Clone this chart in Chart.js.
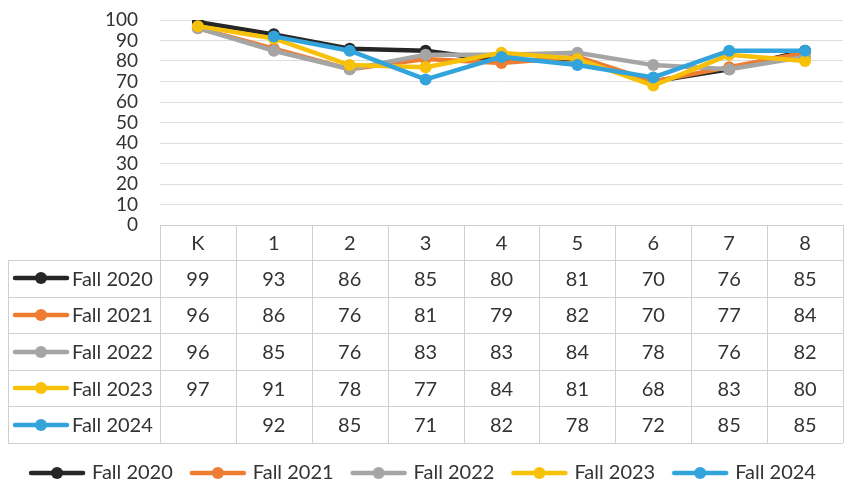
<!DOCTYPE html>
<html lang="en">
<head>
  <meta charset="UTF-8">
  <title>Fall 2020 - Fall 2024 by grade</title>
  <script src="https://cdn.jsdelivr.net/npm/chart.js"></script>
  <style>
    html, body { margin: 0; padding: 0; background: #fff; }
    .wrap { position: relative; width: 849px; height: 487px; }
  </style>
</head>
<body>
  <div class="wrap"><canvas id="gradeChart"></canvas></div>
  <script>
    const grades = ['K', '1', '2', '3', '4', '5', '6', '7', '8'];
    const seriesNames = ['Fall 2020', 'Fall 2021', 'Fall 2022', 'Fall 2023', 'Fall 2024'];
    const fall2020 = [99, 93, 86, 85, 80, 81, 70, 76, 85];
    const fall2021 = [96, 86, 76, 81, 79, 82, 70, 77, 84];
    const fall2022 = [96, 85, 76, 83, 83, 84, 78, 76, 82];
    const fall2023 = [97, 91, 78, 77, 84, 81, 68, 83, 80];
    const fall2024 = [null, 92, 85, 71, 82, 78, 72, 85, 85];
    const yTicks = [0, 10, 20, 30, 40, 50, 60, 70, 80, 90, 100];

    const seriesValues = [fall2020, fall2021, fall2022, fall2023, fall2024];
    const colors = ['#262626', '#ed7d31', '#a5a5a5', '#f7c10a', '#33a3dc'];
    const FONT = 'Lato, "Open Sans", sans-serif';
    const TEXT = '#333333';
    const LINE = '#cfcfcf';

    // little line+dot keys, used in the legend and the table
    function makeKey(color) {
      const c = document.createElement('canvas');
      c.width = 58; c.height = 14;
      const g = c.getContext('2d');
      g.strokeStyle = color; g.lineWidth = 4.5; g.lineCap = 'round';
      g.beginPath(); g.moveTo(3, 7); g.lineTo(55, 7); g.stroke();
      g.fillStyle = color;
      g.beginPath(); g.arc(29, 7, 6, 0, Math.PI * 2); g.fill();
      return c;
    }
    const keys = colors.map(makeKey);

    const dataTable = {
      id: 'dataTable',
      afterDraw(chart) {
        const { ctx, chartArea } = chart;
        const x = chart.scales.x;
        const cw = (chartArea.right - chartArea.left) / grades.length;
        const top = chartArea.bottom;
        const headH = 35;
        const rowH = 36.6;
        const bottom = top + headH + rowH * seriesNames.length;
        const leftCol = 8;
        ctx.save();
        ctx.strokeStyle = LINE;
        ctx.lineWidth = 1;
        ctx.beginPath();
        // horizontal lines
        ctx.moveTo(chartArea.left, top + 0.5); ctx.lineTo(chartArea.right, top + 0.5);
        for (let r = 0; r <= seriesNames.length; r++) {
          const y = Math.round(top + headH + rowH * r) + 0.5;
          ctx.moveTo(leftCol, y); ctx.lineTo(chartArea.right, y);
        }
        // vertical lines
        for (let i = 0; i <= grades.length; i++) {
          const vx = Math.round(chartArea.left + cw * i) + 0.5;
          ctx.moveTo(vx, top); ctx.lineTo(vx, bottom);
        }
        ctx.moveTo(leftCol + 0.5, top + headH); ctx.lineTo(leftCol + 0.5, bottom);
        ctx.stroke();

        ctx.fillStyle = TEXT;
        ctx.font = '20px ' + FONT;
        ctx.textAlign = 'center';
        ctx.textBaseline = 'middle';
        grades.forEach((g, i) => {
          ctx.fillText(g, x.getPixelForValue(i), top + headH / 2 + 1);
        });
        seriesValues.forEach((vals, r) => {
          const cy = top + headH + rowH * r + rowH / 2 + 1;
          vals.forEach((v, i) => {
            if (v !== null) ctx.fillText(String(v), x.getPixelForValue(i), cy);
          });
          ctx.drawImage(keys[r], 12, Math.round(cy - 8));
          ctx.textAlign = 'left';
          ctx.fillText(seriesNames[r], 72, cy);
          ctx.textAlign = 'center';
        });
        ctx.restore();
      }
    };

    new Chart(document.getElementById('gradeChart'), {
      type: 'line',
      data: {
        labels: grades,
        datasets: seriesNames.map((name, i) => ({
          label: name,
          data: seriesValues[i],
          borderColor: colors[i],
          backgroundColor: colors[i],
          borderWidth: 4.5,
          pointRadius: 6,
          pointHoverRadius: 6,
          pointBorderWidth: 0,
          tension: 0,
          order: seriesNames.length - i
        }))
      },
      options: {
        responsive: true,
        maintainAspectRatio: false,
        animation: false,
        layout: { padding: { top: 20, right: 1, bottom: -6, left: 0 } },
        scales: {
          x: {
            offset: true,
            grid: { display: false },
            border: { display: false },
            ticks: { display: false },
            afterFit(scale) { scale.height = 218; }
          },
          y: {
            min: 0,
            max: 100,
            afterBuildTicks(scale) { scale.ticks = yTicks.map(v => ({ value: v })); },
            afterFit(scale) {
              scale.width = 160;
              scale.paddingTop = 0;
              scale.paddingBottom = 0;
            },
            grid: { color: '#dedede', drawTicks: false },
            border: { display: false },
            ticks: { color: TEXT, padding: 22, autoSkip: false, font: { family: FONT, size: 19 } }
          }
        },
        plugins: {
          tooltip: { enabled: false },
          legend: {
            position: 'bottom',
            labels: {
              usePointStyle: true,
              pointStyleWidth: 50,
              padding: 20,
              color: TEXT,
              font: { family: FONT, size: 20 },
              sort: (a, b) => a.datasetIndex - b.datasetIndex,
              generateLabels(chart) {
                const items = Chart.defaults.plugins.legend.labels.generateLabels(chart);
                items.forEach(it => { it.pointStyle = keys[it.datasetIndex]; });
                return items;
              }
            }
          }
        }
      },
      plugins: [dataTable]
    });
  </script>
</body>
</html>
